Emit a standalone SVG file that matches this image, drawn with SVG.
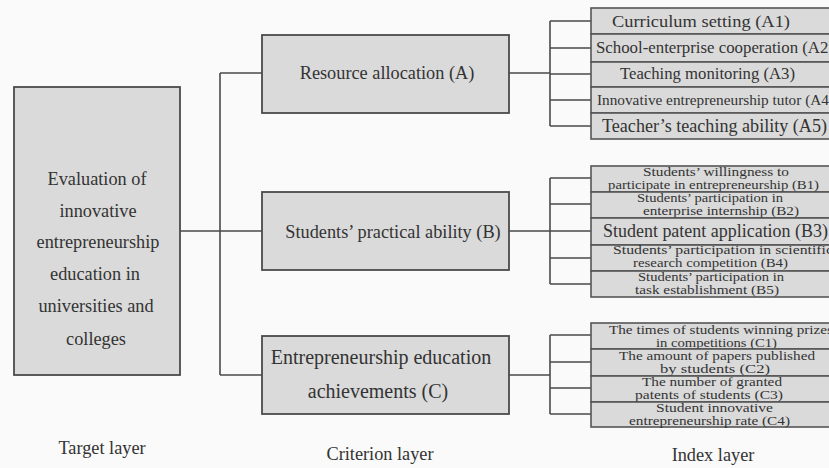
<svg xmlns="http://www.w3.org/2000/svg" width="829" height="468" viewBox="0 0 829 468">
<style>
.bg{fill:#fafafa}
.box{fill:#dadada;stroke:#4a4a4a;stroke-width:1.8}
.ibox{fill:#dadada;stroke:#555;stroke-width:1.6}
.ln{fill:none;stroke:#4a4a4a;stroke-width:1.6}
text{font-family:"Liberation Serif","Times New Roman",serif;fill:#333}
.t18{font-size:18.3px}
.t20{font-size:20px}
.m{text-anchor:middle}
.s14{font-size:12.5px}
</style>
<rect class="bg" x="0" y="0" width="829" height="468"/>

<g id="connectors">
  <path class="ln" d="M180,231 H220 M220,73 V375 M220,73 H262 M220,231 H262 M220,375 H262"/>
  <path class="ln" d="M509,73 H550 M550,21 V126 M550,21 H591 M550,48 H591 M550,74 H591 M550,100 H591 M550,126 H591"/>
  <path class="ln" d="M509,231 H550 M550,178 V284 M550,178 H591 M550,204 H591 M550,231 H591 M550,258 H591 M550,284 H591"/>
  <path class="ln" d="M509,375 H550 M550,335 V414 M550,335 H591 M550,362 H591 M550,388 H591 M550,414 H591"/>
</g>

<g id="target">
  <rect class="box" x="14" y="87" width="166" height="288"/>
  <text class="t18 m" x="97" y="185">Evaluation of</text>
  <text class="t18 m" x="98" y="217">innovative</text>
  <text class="t18 m" x="98" y="248">entrepreneurship</text>
  <text class="t18 m" x="95" y="280">education in</text>
  <text class="t18 m" x="96" y="312">universities and</text>
  <text class="t18 m" x="96" y="345">colleges</text>
</g>

<g id="criterionA">
  <rect class="box" x="262" y="35" width="247" height="78"/>
  <text class="t18 m" x="387" y="79">Resource allocation (A)</text>
</g>
<g id="criterionB">
  <rect class="box" x="262" y="192" width="247" height="78"/>
  <text class="t18 m" x="393" y="238">Students’ practical ability (B)</text>
</g>
<g id="criterionC">
  <rect class="box" x="262" y="336" width="247" height="78"/>
  <text class="t20 m" x="381" y="364">Entrepreneurship education</text>
  <text class="t20 m" x="378" y="398">achievements (C)</text>
</g>

<g id="A1"><rect class="ibox" x="591" y="8" width="250" height="26"/>
  <text x="612" y="27" font-size="17" textLength="178" lengthAdjust="spacingAndGlyphs">Curriculum setting (A1)</text></g>
<g id="A2"><rect class="ibox" x="591" y="34" width="250" height="28"/>
  <text x="596" y="53" font-size="16" textLength="238" lengthAdjust="spacingAndGlyphs">School-enterprise cooperation (A2)</text></g>
<g id="A3"><rect class="ibox" x="591" y="62" width="250" height="25"/>
  <text x="620" y="79" font-size="16" textLength="175" lengthAdjust="spacingAndGlyphs">Teaching monitoring (A3)</text></g>
<g id="A4"><rect class="ibox" x="591" y="87" width="250" height="26"/>
  <text x="597" y="105" font-size="14" textLength="237" lengthAdjust="spacingAndGlyphs">Innovative entrepreneurship tutor (A4)</text></g>
<g id="A5"><rect class="ibox" x="591" y="113" width="250" height="26"/>
  <text x="602" y="132" font-size="18" textLength="225" lengthAdjust="spacingAndGlyphs">Teacher’s teaching ability (A5)</text></g>

<g id="B1"><rect class="ibox" x="591" y="166" width="250" height="26"/>
  <text class="s14" x="643" y="176" textLength="146" lengthAdjust="spacingAndGlyphs">Students’ willingness to</text>
  <text class="s14" x="608" y="189" textLength="211" lengthAdjust="spacingAndGlyphs">participate in entrepreneurship (B1)</text></g>
<g id="B2"><rect class="ibox" x="591" y="192" width="250" height="26"/>
  <text class="s14" x="637" y="202" textLength="146" lengthAdjust="spacingAndGlyphs">Students’ participation in</text>
  <text class="s14" x="643" y="215" textLength="156" lengthAdjust="spacingAndGlyphs">enterprise internship (B2)</text></g>
<g id="B3"><rect class="ibox" x="591" y="218" width="250" height="27"/>
  <text x="603" y="237" font-size="18" textLength="225" lengthAdjust="spacingAndGlyphs">Student patent application (B3)</text></g>
<g id="B4"><rect class="ibox" x="591" y="245" width="250" height="26"/>
  <text class="s14" x="613" y="254" textLength="220" lengthAdjust="spacingAndGlyphs">Students’ participation in scientific</text>
  <text class="s14" x="633" y="267" textLength="155" lengthAdjust="spacingAndGlyphs">research competition (B4)</text></g>
<g id="B5"><rect class="ibox" x="591" y="271" width="250" height="26"/>
  <text class="s14" x="638" y="281" textLength="146" lengthAdjust="spacingAndGlyphs">Students’ participation in</text>
  <text class="s14" x="635" y="294" textLength="144" lengthAdjust="spacingAndGlyphs">task establishment (B5)</text></g>

<g id="C1"><rect class="ibox" x="591" y="323" width="250" height="26"/>
  <text class="s14" x="609" y="334" textLength="224" lengthAdjust="spacingAndGlyphs">The times of students winning prizes</text>
  <text class="s14" x="656" y="347" textLength="121" lengthAdjust="spacingAndGlyphs">in competitions (C1)</text></g>
<g id="C2"><rect class="ibox" x="591" y="349" width="250" height="27"/>
  <text class="s14" x="619" y="360" textLength="196" lengthAdjust="spacingAndGlyphs">The amount of papers published</text>
  <text class="s14" x="660" y="373" textLength="110" lengthAdjust="spacingAndGlyphs">by students (C2)</text></g>
<g id="C3"><rect class="ibox" x="591" y="376" width="250" height="26"/>
  <text class="s14" x="642" y="386" textLength="140" lengthAdjust="spacingAndGlyphs">The number of granted</text>
  <text class="s14" x="635" y="399" textLength="148" lengthAdjust="spacingAndGlyphs">patents of students (C3)</text></g>
<g id="C4"><rect class="ibox" x="591" y="402" width="250" height="25"/>
  <text class="s14" x="656" y="412" textLength="117" lengthAdjust="spacingAndGlyphs">Student innovative</text>
  <text class="s14" x="629" y="425" textLength="161" lengthAdjust="spacingAndGlyphs">entrepreneurship rate (C4)</text></g>

<g id="layer-labels">
  <text class="t18 m" x="102" y="454">Target layer</text>
  <text class="t18 m" x="380" y="460">Criterion layer</text>
  <text class="t18 m" x="713" y="461">Index layer</text>
</g>
</svg>
